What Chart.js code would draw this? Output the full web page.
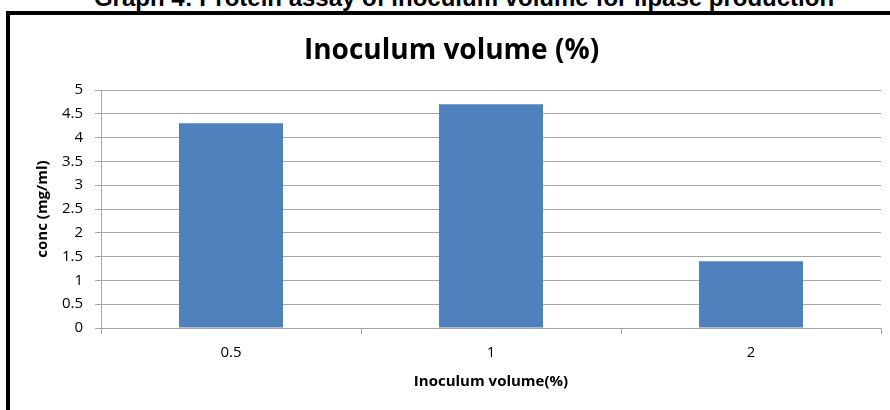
<!DOCTYPE html>
<html>
<head>
<meta charset="utf-8">
<script src="https://cdn.jsdelivr.net/npm/chart.js@4.4.0/dist/chart.umd.min.js"></script>
<style>
  html, body { margin: 0; padding: 0; background: #fff; overflow: hidden; }
  body { width: 890px; height: 410px; position: relative; }
  #pageTitle {
    position: absolute; left: 9px; width: 910px; top: -14px;
    text-align: center; font: bold 24px "Liberation Sans", Arial, sans-serif;
    color: #000; line-height: 24px; white-space: nowrap;
  }
  #frame {
    position: absolute; left: 6px; top: 11px; width: 900px; height: 420px;
    border: 4px solid #000;
  }
  #wrap { position: absolute; left: 0; top: 0; width: 893px; height: 395px; }
</style>
</head>
<body>
<div id="pageTitle">Graph 4: Protein assay of inoculum volume for lipase production</div>
<div id="frame">
  <div id="wrap"><canvas id="myChart"></canvas></div>
</div>
<script>
// chart data
const categories = ['0.5', '1', '2'];
const concValues = [4.3, 4.7, 1.4];
const yTicks = [0, 0.5, 1, 1.5, 2, 2.5, 3, 3.5, 4, 4.5, 5];

const gridColor = '#a6a6a6';
const fontFamily = '"Open Sans", "Noto Sans", sans-serif';
const tickFont = { family: fontFamily, size: 15 };
const axisTitleFont = { family: fontFamily, size: 15, weight: 'bold', lineHeight: 1.2 };

const ctx = document.getElementById('myChart').getContext('2d');
const chart = new Chart(ctx, {
    type: 'bar',
    data: {
        labels: categories,
        datasets: [{
            label: 'conc (mg/ml)',
            data: concValues,
            backgroundColor: '#4f81bd',
            borderWidth: 0,
            barPercentage: 0.4,
            categoryPercentage: 1.0
        }]
    },
    options: {
        responsive: true,
        maintainAspectRatio: false,
        animation: false,
        layout: { padding: { left: 12, right: 22, top: 0, bottom: 0 } },
        plugins: {
            legend: { display: false },
            tooltip: { enabled: false },
            title: {
                display: true,
                text: 'Inoculum volume (%)',
                color: '#000',
                font: { family: fontFamily, size: 28, weight: 'bold', lineHeight: 1.2 },
                padding: { top: 19, bottom: 22.4 }
            }
        },
        scales: {
            x: {
                grid: { display: true, drawOnChartArea: false, drawTicks: true, tickLength: 6, color: gridColor, offset: true },
                border: { display: true, color: gridColor },
                ticks: { color: '#000', font: tickFont, padding: 10, maxRotation: 0 },
                title: {
                    display: true,
                    text: 'Inoculum volume(%)',
                    color: '#000',
                    font: axisTitleFont,
                    padding: { top: 0, bottom: 19 }
                },
                afterFit: (scale) => { scale.height = 82; }
            },
            y: {
                min: 0,
                max: 5,
                afterBuildTicks: (scale) => { scale.ticks = yTicks.map(v => ({ value: v })); },
                grid: { color: gridColor, tickLength: 6 },
                border: { display: true, color: gridColor },
                ticks: { color: '#000', font: tickFont, padding: 12, callback: (v) => String(v) },
                title: {
                    display: true,
                    text: 'conc (mg/ml)',
                    color: '#000',
                    font: axisTitleFont,
                    padding: { top: 12, bottom: 0 }
                },
                afterFit: (scale) => { scale.width = 79; }
            }
        }
    }
});
</script>
</body>
</html>
